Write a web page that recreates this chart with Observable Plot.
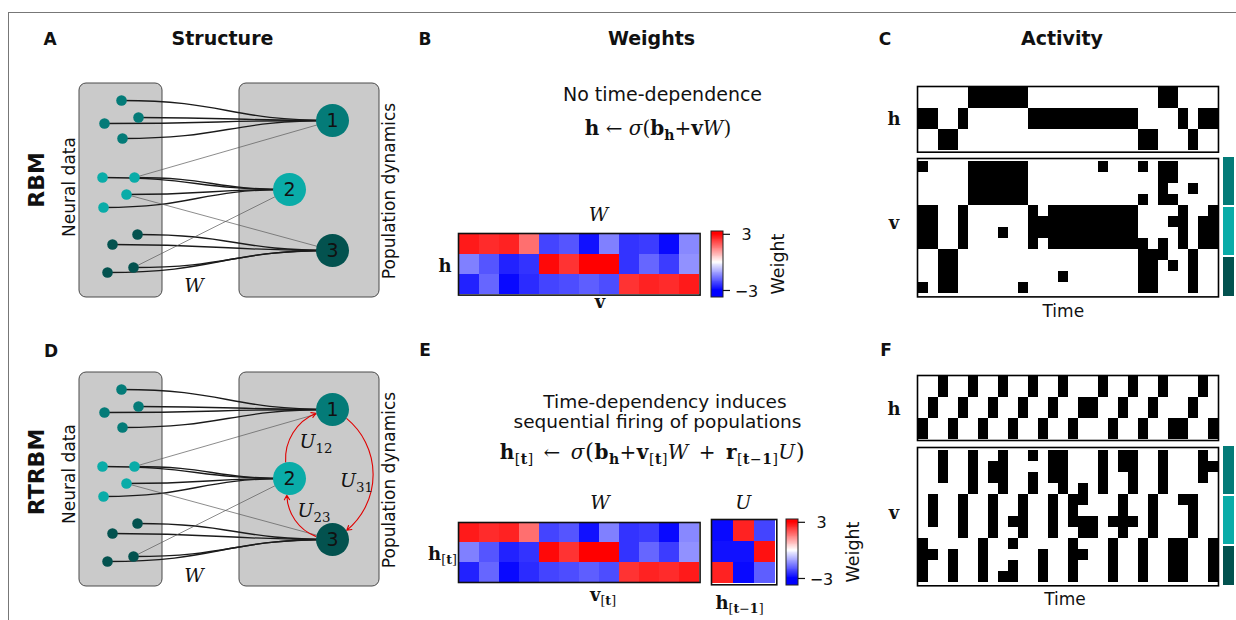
<!DOCTYPE html>
<html><head><meta charset="utf-8">
<script src="https://cdn.jsdelivr.net/npm/d3@7"></script>
<script src="https://cdn.jsdelivr.net/npm/@observablehq/plot@0.6"></script>
<style>
html,body{margin:0;padding:0;background:#fff;}
#fig{position:relative;width:1236px;height:620px;overflow:hidden;background:#fff;font-family:"DejaVu Sans",sans-serif;color:#111;}
.t{position:absolute;white-space:nowrap;line-height:normal;}
.m{font-family:"DejaVu Serif",serif;}
.m sub{font-size:0.7em;vertical-align:-0.35em;line-height:0;}
.big{font-size:1.15em;line-height:0;}
.border{position:absolute;left:8px;top:12px;width:1240px;height:620px;border-left:1px solid #777;border-top:1px solid #777;}
</style></head>
<body><div id="fig"><div class="border"></div></div>
<script>
// ---------------- data ----------------
const timeBins = d3.range(30);
const populations = ["1", "2", "3"];
const popColors = ["#047b78", "#0aaca8", "#03524f"];

// structure diagram layout (px inside each structure panel)
const visX = [61, 78, 44, 62, 42, 74, 66, 43, 77, 52, 73, 47];
const visY = [25, 42, 48, 63, 102, 102, 119, 132, 159, 169, 192, 197];
const visPop = [0, 0, 0, 0, 1, 1, 1, 1, 2, 2, 2, 2];
const hidX = [272, 229, 272];
const hidY = [45, 114, 175];
const crossFrom = [5, 6, 10];
const crossTo = [0, 2, 1];
const boxX1 = [19, 179], boxX2 = [102, 319], boxY1 = [8, 8], boxY2 = [222, 222];
const recFrom = [1, 2], recTo = [0, 1];   // U12 (2→1), U23 (3→2)
const loopFrom = [0], loopTo = [2];       // U31 (1→3)

// weights
const weightsW = [
  [2.7, 2.5, 2.6, 1.7, -2.2, -2.0, -2.8, -1.5, -2.4, -2.3, -2.9, -1.4],
  [-1.5, -2.0, -2.6, -2.4, 2.9, 2.4, 3.0, 3.0, -2.4, -1.8, -2.3, -1.3],
  [-2.6, -1.8, -2.9, -2.5, -2.2, -2.1, -1.9, -2.1, 2.4, 2.6, 2.5, 2.7]
];
const weightsU = [
  [-2.9, 2.6, -2.2],
  [-2.8, -2.8, 2.8],
  [2.6, -2.9, -1.9]
];
const cbTicks = [-3, 3];
const cbMin = -3.75, cbMax = 3.3;

// activity: active time bins per unit
const rbmH = [
  [5, 6, 7, 8, 9, 10, 24, 25],
  [0, 1, 4, 11, 12, 13, 14, 15, 16, 17, 18, 19, 20, 21, 26, 28, 29],
  [2, 3, 22, 23, 27]
];
const rbmV = [
  [0, 5, 6, 7, 8, 9, 10, 18, 22, 24, 25],
  [5, 6, 7, 8, 9, 10, 24, 25],
  [5, 6, 7, 8, 9, 10, 24, 27],
  [5, 6, 7, 8, 9, 10, 22, 24, 25],
  [0, 1, 4, 11, 13, 14, 15, 16, 17, 18, 19, 20, 21, 26, 29],
  [0, 1, 4, 11, 12, 13, 14, 15, 16, 17, 18, 19, 20, 21, 25, 26, 28, 29],
  [0, 1, 4, 8, 11, 12, 13, 14, 15, 16, 17, 18, 19, 20, 21, 26, 28, 29],
  [0, 1, 4, 11, 13, 14, 15, 16, 17, 18, 19, 20, 21, 22, 24, 26, 28, 29],
  [2, 3, 22, 23, 24, 27],
  [2, 3, 22, 23, 25, 27],
  [2, 3, 14, 22, 23, 27],
  [0, 2, 3, 10, 22, 23, 27]
];
const rtrbmH = [
  [2, 5, 8, 11, 14, 18, 21, 24, 28],
  [1, 4, 7, 10, 13, 16, 17, 20, 23, 27],
  [0, 3, 6, 9, 12, 15, 19, 22, 25, 26, 29]
];
const rtrbmV = [
  [2, 5, 8, 11, 13, 14, 18, 20, 21, 24, 28],
  [2, 5, 7, 8, 13, 14, 18, 20, 21, 24, 28, 29],
  [2, 5, 7, 8, 11, 13, 14, 18, 21, 24, 28],
  [5, 8, 11, 14, 16, 18, 21, 24],
  [1, 4, 7, 10, 13, 15, 16, 20, 23, 26, 27],
  [1, 4, 7, 10, 13, 15, 20, 23, 27],
  [1, 4, 7, 9, 10, 13, 15, 16, 17, 19, 20, 21, 23, 27],
  [4, 7, 10, 13, 16, 17, 20, 23, 27],
  [0, 6, 9, 15, 19, 22, 25, 26, 29],
  [0, 1, 3, 6, 12, 15, 16, 19, 22, 25, 26, 29],
  [0, 3, 6, 9, 12, 15, 19, 22, 25, 26, 29],
  [0, 3, 6, 8, 9, 12, 15, 19, 22, 25, 26, 29]
];

// ---------------- helpers ----------------
const fig = document.getElementById("fig");
const baseStyle = {background: "none", overflow: "visible", fontFamily: "DejaVu Sans", fontSize: "16px", color: "#111"};

function mount(svg, left, top, clip) {
  const w = +svg.getAttribute("width"), h = +svg.getAttribute("height");
  const d = document.createElement("div");
  d.style.cssText = `position:absolute;left:${left}px;top:${top}px;width:${w}px;height:${h}px;overflow:${clip ? "hidden" : "visible"};`;
  d.appendChild(svg);
  fig.appendChild(d);
}
function text(html, cx, cy, css = "", rotate = 0, cls = "") {
  const d = document.createElement("div");
  d.className = "t " + cls;
  d.innerHTML = html;
  d.style.cssText += css;
  d.style.left = cx + "px";
  d.style.top = cy + "px";
  d.style.transform = "translate(-50%,-50%)" + (rotate ? ` rotate(${rotate}deg)` : "");
  fig.appendChild(d);
}

const weightColor = {type: "linear", domain: [-3, 0, 3], range: ["#0000ff", "#ffffff", "#ff0000"], interpolate: "rgb", clamp: true};

function structure(top, recurrent) {
  const vis = visX.map((x, i) => ({x, y: visY[i], c: popColors[visPop[i]], hx: hidX[visPop[i]], hy: hidY[visPop[i]]}));
  const hid = hidX.map((x, i) => ({x, y: hidY[i], c: popColors[i], label: populations[i]}));
  const cross = crossFrom.map((v, i) => ({x1: visX[v], y1: visY[v], x2: hidX[crossTo[i]], y2: hidY[crossTo[i]]}));
  const boxes = boxX1.map((x, i) => ({x1: x, x2: boxX2[i], y1: boxY1[i], y2: boxY2[i]}));
  const marks = [
    Plot.rect(boxes, {x1: "x1", x2: "x2", y1: "y1", y2: "y2", fill: "#cacaca", stroke: "#4a4a4a", strokeWidth: 1, rx: 7}),
    Plot.link(vis, {x1: "x", y1: "y", x2: "hx", y2: "hy", curve: "bump-x", stroke: "#1b1b1b", strokeWidth: 1.3}),
    Plot.link(cross, {x1: "x1", y1: "y1", x2: "x2", y2: "y2", stroke: "#5a5a5a", strokeWidth: 0.7})
  ];
  if (recurrent) {
    const rec = recFrom.map((f, i) => ({x1: hidX[f], y1: hidY[f], x2: hidX[recTo[i]], y2: hidY[recTo[i]]}));
    const loop = loopFrom.map((f, i) => ({x1: hidX[f], y1: hidY[f], x2: hidX[loopTo[i]], y2: hidY[loopTo[i]]}));
    marks.push(
      Plot.arrow(rec, {x1: "x1", y1: "y1", x2: "x2", y2: "y2", bend: 55, stroke: "#e00000", strokeWidth: 1.1, headLength: 7, insetStart: 17, insetEnd: 17}),
      Plot.arrow(loop, {x1: "x1", y1: "y1", x2: "x2", y2: "y2", bend: 64, stroke: "#e00000", strokeWidth: 1.1, headLength: 7, insetStart: 17, insetEnd: 17})
    );
  }
  marks.push(
    Plot.dot(hid, {x: "x", y: "y", r: 16.5, fill: "c"}),
    Plot.dot(vis, {x: "x", y: "y", r: 5.3, fill: "c"}),
    Plot.text(hid, {x: "x", y: "y", text: "label", fontSize: 19, fill: "#111"})
  );
  const svg = Plot.plot({
    width: 340, height: 240,
    x: {domain: [0, 340], range: [0, 340], axis: null},
    y: {domain: [0, 240], range: [0, 240], axis: null},
    color: {type: "identity"},
    style: baseStyle,
    marks
  });
  mount(svg, 60, top);
}

function heat(values, left, top, w, h) {
  const P = 2;
  const cells = values.flatMap((row, r) => row.map((v, c) => ({r, c, v})));
  const svg = Plot.plot({
    width: w + 2 * P, height: h + 2 * P, margin: P,
    x: {domain: d3.range(values[0].length), padding: 0, axis: null},
    y: {domain: d3.range(values.length), padding: 0, axis: null},
    color: weightColor,
    style: baseStyle,
    marks: [
      Plot.cell(cells, {x: "c", y: "r", fill: "v", inset: 0, shapeRendering: "crispEdges"}),
      Plot.frame({stroke: "#111", strokeWidth: 1.6})
    ]
  });
  mount(svg, left - P, top - P);
}

function colorbar(left, top, h) {
  const P = 2, W = 12;
  const step = (cbMax - cbMin) / 140;
  const steps = d3.range(140).map(i => cbMin + i * step);
  const svg = Plot.plot({
    width: W + 50, height: h + 2 * P,
    x: {domain: [0, 1], range: [P, P + W], axis: null},
    y: {domain: [cbMin, cbMax], range: [h + P, P], axis: null},
    color: weightColor,
    style: baseStyle,
    marks: [
      Plot.rect(steps, {x1: 0, x2: 1, y1: d => d, y2: d => d + step * 1.3, fill: d => d + step / 2, shapeRendering: "crispEdges"}),
      Plot.rect([0], {x1: 0, x2: 1, y1: cbMin, y2: cbMax, fill: "none", stroke: "#222", strokeWidth: 1}),
      Plot.ruleY(cbTicks, {y: d => d, x1: 1, x2: 1 + 7 / W, stroke: "#111", strokeWidth: 1.2}),
      Plot.text(cbTicks, {x: 1, y: d => d, dx: 23, dy: 1, text: d => (d < 0 ? "−" : "") + Math.abs(d), fontSize: 16, fill: "#111"})
    ]
  });
  mount(svg, left - P, top - P);
}

function raster(rows, left, top, w, h) {
  const P = 2;
  const cells = rows.flatMap((cols, r) => cols.map(t => ({t, r})));
  const svg = Plot.plot({
    width: w + 2 * P, height: h + 2 * P, margin: P,
    x: {domain: timeBins, padding: 0, axis: null},
    y: {domain: d3.range(rows.length), padding: 0, axis: null},
    style: baseStyle,
    marks: [
      Plot.cell(cells, {x: "t", y: "r", fill: "black", inset: 0, shapeRendering: "crispEdges"}),
      Plot.frame({stroke: "#000", strokeWidth: 1.6})
    ]
  });
  mount(svg, left - P, top - P);
}

function popBars(left, top, h) {
  const svg = Plot.plot({
    width: 11, height: h, margin: 0,
    x: {domain: [0, 1], range: [0, 11], axis: null},
    y: {type: "band", domain: [0, 1, 2], range: [0, 149], paddingInner: 0.035, paddingOuter: 0, axis: null},
    color: {type: "identity"},
    style: {...baseStyle, overflow: "hidden"},
    marks: [Plot.cell([0, 1, 2], {y: d => d, fill: d => popColors[d]})]
  });
  mount(svg, left, top, true);
}

// ---------------- panels ----------------
const sansB = "font-weight:bold;";
text("A", 50, 39, sansB + "font-size:17px;");
text("Structure", 222.5, 38.4, sansB + "font-size:19px;");
text("B", 425, 39, sansB + "font-size:17px;");
text("Weights", 651.5, 38.4, sansB + "font-size:19px;");
text("C", 885, 39, sansB + "font-size:17px;");
text("Activity", 1062, 38.4, sansB + "font-size:19px;");
text("D", 51, 350.5, sansB + "font-size:17px;");
text("E", 425, 350, sansB + "font-size:17px;");
text("F", 886, 350, sansB + "font-size:17px;");

// Structure panels
structure(75, false);
structure(364, true);
text("RBM", 35.5, 180, sansB + "font-size:22px;", -90);
text("RTRBM", 35.5, 472, sansB + "font-size:22px;", -90);
text("Neural data", 69, 187, "font-size:17px;", -90);
text("Neural data", 69, 474, "font-size:17px;", -90);
text("Population dynamics", 388.5, 191, "font-size:17px;", -90);
text("Population dynamics", 388.5, 480, "font-size:17px;", -90);
text("<i>W</i>", 194, 285, "font-size:19px;", 0, "m");
text("<i>W</i>", 194, 575, "font-size:19px;", 0, "m");
text("<i>U</i><sub>12</sub>", 316, 441, "font-size:19px;", 0, "m");
text("<i>U</i><sub>23</sub>", 314, 509.5, "font-size:19px;", 0, "m");
text("<i>U</i><sub>31</sub>", 356.5, 479.5, "font-size:19px;", 0, "m");

// Weights panels
text("No time-dependence", 662.5, 93.5, "font-size:19px;");
text('<b>h</b> ← <i>σ</i>(<b>b</b><sub><b>h</b></sub>+<b>v</b><i>W</i>)', 658, 127.5, "font-size:20px;", 0, "m");
heat(weightsW, 457.7, 232.7, 241.6, 61.6);
colorbar(710.7, 230.7, 66);
text('<i>W</i>', 598.5, 214, "font-size:19px;", 0, "m");
text('<b>h</b>', 445, 265, "font-size:18px;", 0, "m");
text('<b>v</b>', 600, 301, "font-size:18px;", 0, "m");
text("Weight", 778, 264, "font-size:17.5px;", -90);

text('<span style="padding-left:15px">Time-dependency induces</span><br>sequential firing of populations', 657.5, 411.5, "font-size:18.5px;line-height:20.5px;text-align:center;");
text('<b>h</b><sub>[<b>t</b>]</sub> ← <i>σ</i><span class="big">(</span><b>b</b><sub><b>h</b></sub>+<b>v</b><sub>[<b>t</b>]</sub><i>W</i> + <b>r</b><sub>[<b>t</b>−<b>1</b>]</sub><i>U</i><span class="big">)</span>', 652.5, 451.5, "font-size:20px;letter-spacing:0.5px;word-spacing:3px;", 0, "m");
heat(weightsW, 457.7, 521.7, 241.6, 60);
heat(weightsU, 710.7, 519, 65.3, 65.3);
colorbar(785.7, 518.7, 66);
text('<i>W</i>', 600, 501.6, "font-size:19px;", 0, "m");
text('<i>U</i>', 743.3, 501.6, "font-size:19px;", 0, "m");
text('<b>h</b><sub>[<b>t</b>]</sub>', 442.5, 553, "font-size:18px;", 0, "m");
text('<b>v</b><sub>[<b>t</b>]</sub>', 603, 594, "font-size:18px;", 0, "m");
text('<b>h</b><sub>[<b>t</b>−<b>1</b>]</sub>', 739.5, 602, "font-size:18px;", 0, "m");
text("Weight", 853, 552, "font-size:17.5px;", -90);

// Activity panels
raster(rbmH, 917, 86, 301, 65.7);
raster(rbmV, 917, 158.3, 301, 138.4);
popBars(1222.7, 156.7, 139.5);
text('<b>h</b>', 894, 118.3, "font-size:18px;", 0, "m");
text('<b>v</b>', 894, 221.6, "font-size:18px;", 0, "m");
text("Time", 1063.3, 310.8, "font-size:17px;");

raster(rtrbmH, 917, 375, 301, 65);
raster(rtrbmV, 917, 446.7, 301, 138.3);
popBars(1222.7, 446, 139);
text('<b>h</b>', 894, 408.3, "font-size:18px;", 0, "m");
text('<b>v</b>', 894, 511.6, "font-size:18px;", 0, "m");
text("Time", 1065, 599.1, "font-size:17px;");
</script></body></html>
